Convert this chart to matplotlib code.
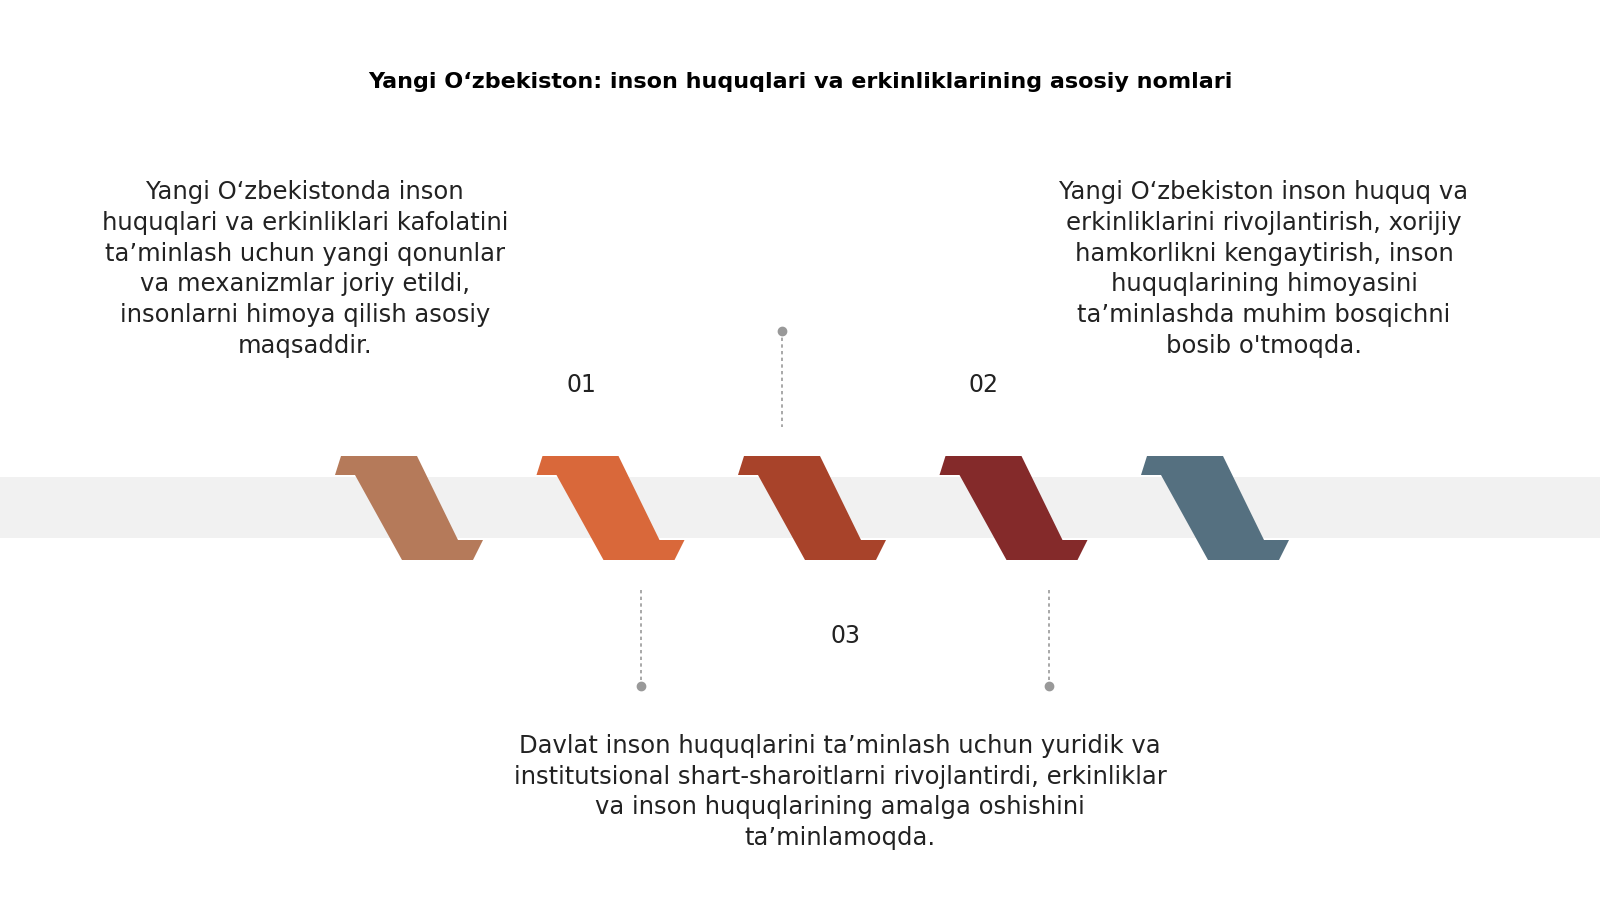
import matplotlib
matplotlib.use("Agg")
import matplotlib.pyplot as plt
from matplotlib.patches import Polygon, Rectangle

title = "Yangi O‘zbekiston: inson huquqlari va erkinliklarining asosiy nomlari"
colors = ["#B57A5A", "#D9683A", "#A8432A", "#842A2A", "#557080"]
labels = ["01", "02", "03"]
texts = [
    "Yangi O‘zbekistonda inson\nhuquqlari va erkinliklari kafolatini\nta’minlash uchun yangi qonunlar\nva mexanizmlar joriy etildi,\ninsonlarni himoya qilish asosiy\nmaqsaddir.",
    "Yangi O‘zbekiston inson huquq va\nerkinliklarini rivojlantirish, xorijiy\nhamkorlikni kengaytirish, inson\nhuquqlarining himoyasini\nta’minlashda muhim bosqichni\nbosib o'tmoqda.",
    "Davlat inson huquqlarini ta’minlash uchun yuridik va\ninstitutsional shart-sharoitlarni rivojlantirdi, erkinliklar\nva inson huquqlarining amalga oshishini\nta’minlamoqda.",
]

plt.rcParams['font.family'] = ['DejaVu Sans']
fig = plt.figure(figsize=(16, 9), dpi=100)
ax = fig.add_axes([0, 0, 1, 1])
ax.set_xlim(0, 1600); ax.set_ylim(900, 0); ax.axis('off')

ax.add_patch(Rectangle((0, 477), 1600, 61, color="#F1F1F1", lw=0))
shape = [(4, 456), (80, 456), (121, 540), (146, 540), (136, 560), (65, 560), (18, 475), (-2, 475)]
for i, c in enumerate(colors):
    x0 = 337 + i * 201.5
    ax.add_patch(Polygon([(x0 + dx, y) for dx, y in shape], closed=True, color=c, lw=0))

gray = "#999999"
for x, y1, y2, yd in [(782, 331, 427, 331), (641, 590, 686, 686), (1049, 590, 686, 686)]:
    ax.plot([x, x], [y1, y2], ls=(0, (2, 2)), color=gray, lw=1.2)
    ax.plot(x, yd, 'o', color=gray, ms=6)

ax.text(800, 82, title, ha='center', va='center', fontsize=16, fontweight='bold', color='black')
for lab, (x, y) in zip(labels, [(581, 385), (983, 385), (845, 636)]):
    ax.text(x, y, lab, ha='center', va='center', fontsize=17, color='#222222')
for t, (x, y) in zip(texts, [(305, 269), (1264, 269), (840, 792)]):
    ax.text(x, y, t, ha='center', va='center', fontsize=17.5, color='#222222', linespacing=1.35)

fig.savefig("out.png", dpi=100, facecolor='white')
